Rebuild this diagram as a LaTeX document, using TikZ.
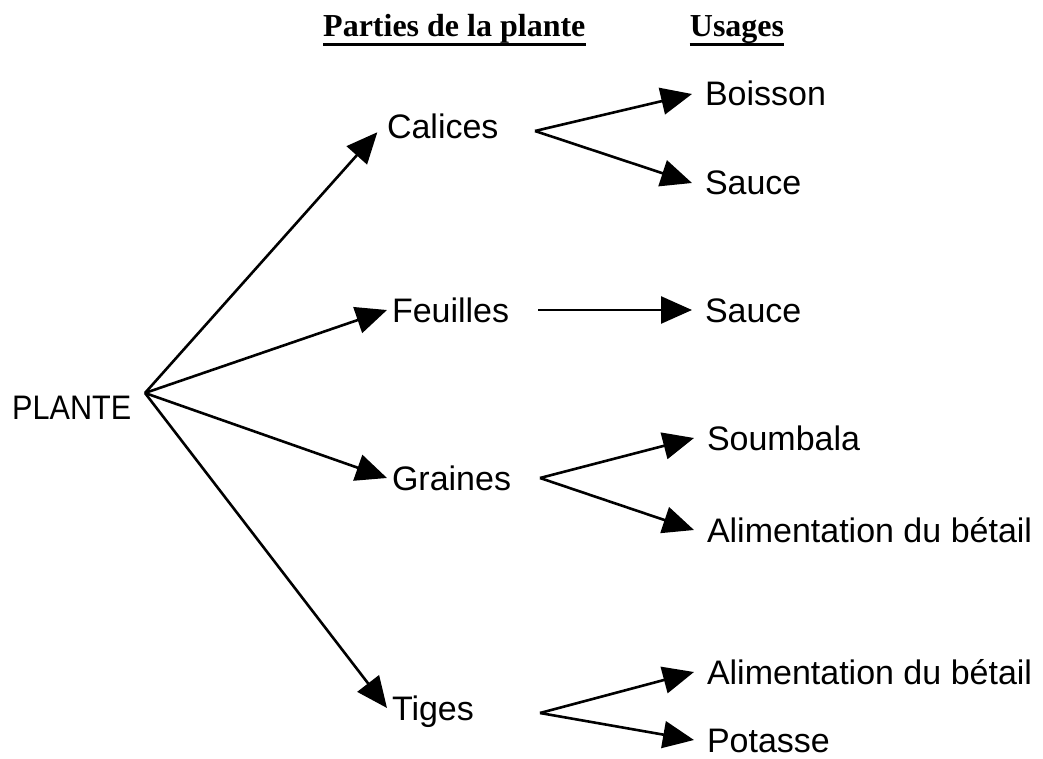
\documentclass[tikz,border=0pt]{standalone}
\usepackage{fontspec}
\usepackage{graphicx}
\setmainfont{Liberation Sans}
\newfontfamily\titrefont{Liberation Serif}
\usetikzlibrary{arrows.meta, positioning}

\begin{document}
\begin{tikzpicture}[
  x=1pt,
  y=-1pt,
  mot/.style={anchor=west, inner sep=0pt, font=\fontsize{34}{40}\selectfont, text height=24pt, text depth=0pt},
  partie/.style={mot, outer sep=5pt},
  usage/.style={mot, outer sep=13pt},
  titre/.style={inner sep=0pt, font=\titrefont\bfseries\fontsize{32}{36}\selectfont, text height=22pt, text depth=0pt},
  souligne/.style={line width=3pt},
  fleche/.style={line width=2.6pt, -{Triangle[length=31pt, width=27pt]}}
  ]
\useasboundingbox (0,0) rectangle (1043,759);

% titres
\node[titre, anchor=base west] (parties) at (323,37) {Parties de la plante};
\node[titre, anchor=base] (usages) at (737,37) {Usages};
\draw[souligne] ([yshift=-7pt]parties.south west) -- ([yshift=-7pt]parties.south east);
\draw[souligne] ([yshift=-7pt]usages.south west) -- ([yshift=-7pt]usages.south east);

% la plante
\node[mot] (plante) at (12,407) {\scalebox{0.9}[1]{PLANTE}};
\coordinate (racine) at (145,393);

% parties (x = debut du texte - outer sep)
\node[partie] (calices) at (382,127) {Calices};
\node[partie] (feuilles) at (387,310) {Feuilles};
\node[partie] (graines) at (387,478) {Graines};
\node[partie] (tiges) at (387,708) {Tiges};

\draw[fleche, shorten >=7pt] (racine) -- (calices.west);
\draw[fleche] (racine) -- (feuilles.west);
\draw[fleche] (racine) -- (graines.west);
\draw[fleche] (racine) -- (tiges.west);

% usages
\node[usage] (boisson) at (692,94) {Boisson};
\node[usage] (sauceA) at (692,183) {Sauce};
\node[usage] (sauceB) at (692,310) {Sauce};
\node[usage] (soumbala) at (694,438) {Soumbala};
\node[usage] (betailA) at (694,530) {Alimentation du bétail};
\node[usage] (betailB) at (694,672) {Alimentation du bétail};
\node[usage] (potasse) at (694,740) {Potasse};

% fourches
\coordinate (fc) at (535,131);
\coordinate (ff) at (538,310);
\coordinate (fg) at (540,478);
\coordinate (ft) at (540,713);

\draw[fleche] (fc) -- (boisson.west);
\draw[fleche] (fc) -- (sauceA.west);
\draw[fleche] (ff) -- (sauceB.west);
\draw[fleche] (fg) -- (soumbala.west);
\draw[fleche] (fg) -- (betailA.west);
\draw[fleche] (ft) -- (betailB.west);
\draw[fleche] (ft) -- (potasse.west);

\end{tikzpicture}
\end{document}
